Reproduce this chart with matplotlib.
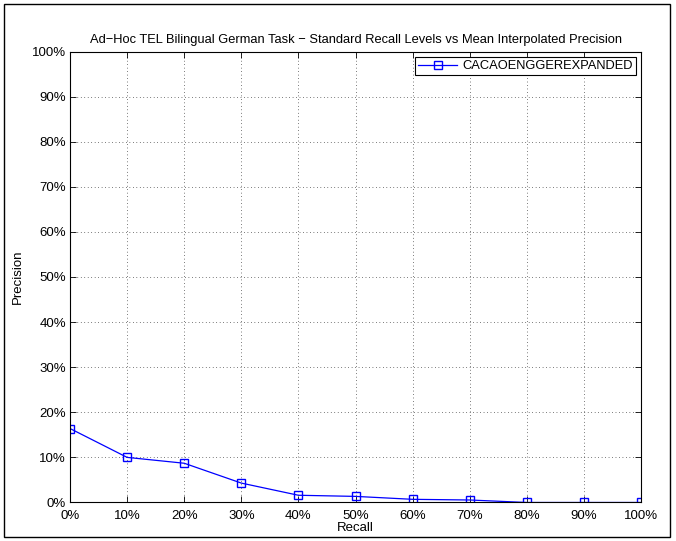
import numpy as np
import matplotlib
matplotlib.use("Agg")
import matplotlib.pyplot as plt
from matplotlib.patches import Rectangle
from matplotlib.ticker import FuncFormatter

# data
recall = [0, 10, 20, 30, 40, 50, 60, 70, 80, 90, 100]
precision = [16.4, 10.0, 8.7, 4.3, 1.6, 1.35, 0.7, 0.55, 0.0, 0.0, 0.0]
run_name = "CACAOENGGEREXPANDED"
title = "Ad\u2212Hoc TEL Bilingual German Task \u2212 Standard Recall Levels vs Mean Interpolated Precision"

plt.rcParams['font.family'] = ['Liberation Sans', 'DejaVu Sans']
plt.rcParams['font.size'] = 9.5

fig = plt.figure(figsize=(6.76, 5.41), dpi=100)
ax = fig.add_axes([0.1036, 0.0712, 0.8447, 0.8336])

ax.plot(recall, precision, color='blue', marker='s', markersize=6,
        markerfacecolor='none', markeredgecolor='blue', linewidth=0.9,
        label=run_name)

ax.set_xlim(0, 100)
ax.set_ylim(0, 100)
ax.set_xticks(np.arange(0, 101, 10))
ax.set_yticks(np.arange(0, 101, 10))
pct = FuncFormatter(lambda v, p: "%d%%" % v)
ax.xaxis.set_major_formatter(pct)
ax.yaxis.set_major_formatter(pct)
ax.tick_params(direction='in', top=True, right=True, length=4, width=0.6)
ax.tick_params(axis='x', pad=5.5)
ax.tick_params(axis='y', pad=3)
ax.grid(True, linestyle=(0, (1, 4)), color='black', linewidth=0.5)
for s in ax.spines.values():
    s.set_linewidth(0.8)

ax.set_xlabel("Recall", labelpad=0)
ax.set_ylabel("Precision", labelpad=6)
ax.set_title(title, fontsize=9.3, pad=6)

leg = ax.legend(loc='upper right', bbox_to_anchor=(0.991, 0.988),
                fancybox=False, framealpha=1, edgecolor='black',
                borderaxespad=0, handlelength=3, handletextpad=0.4,
                borderpad=0.25, fontsize=9.3)
leg.get_frame().set_linewidth(0.8)

# outer frame around the figure
fig.patches.append(Rectangle((0.006, 0.0074), 0.985, 0.985, transform=fig.transFigure,
                             fill=False, edgecolor='black', linewidth=1.0))

fig.savefig("out.png", dpi=100)
